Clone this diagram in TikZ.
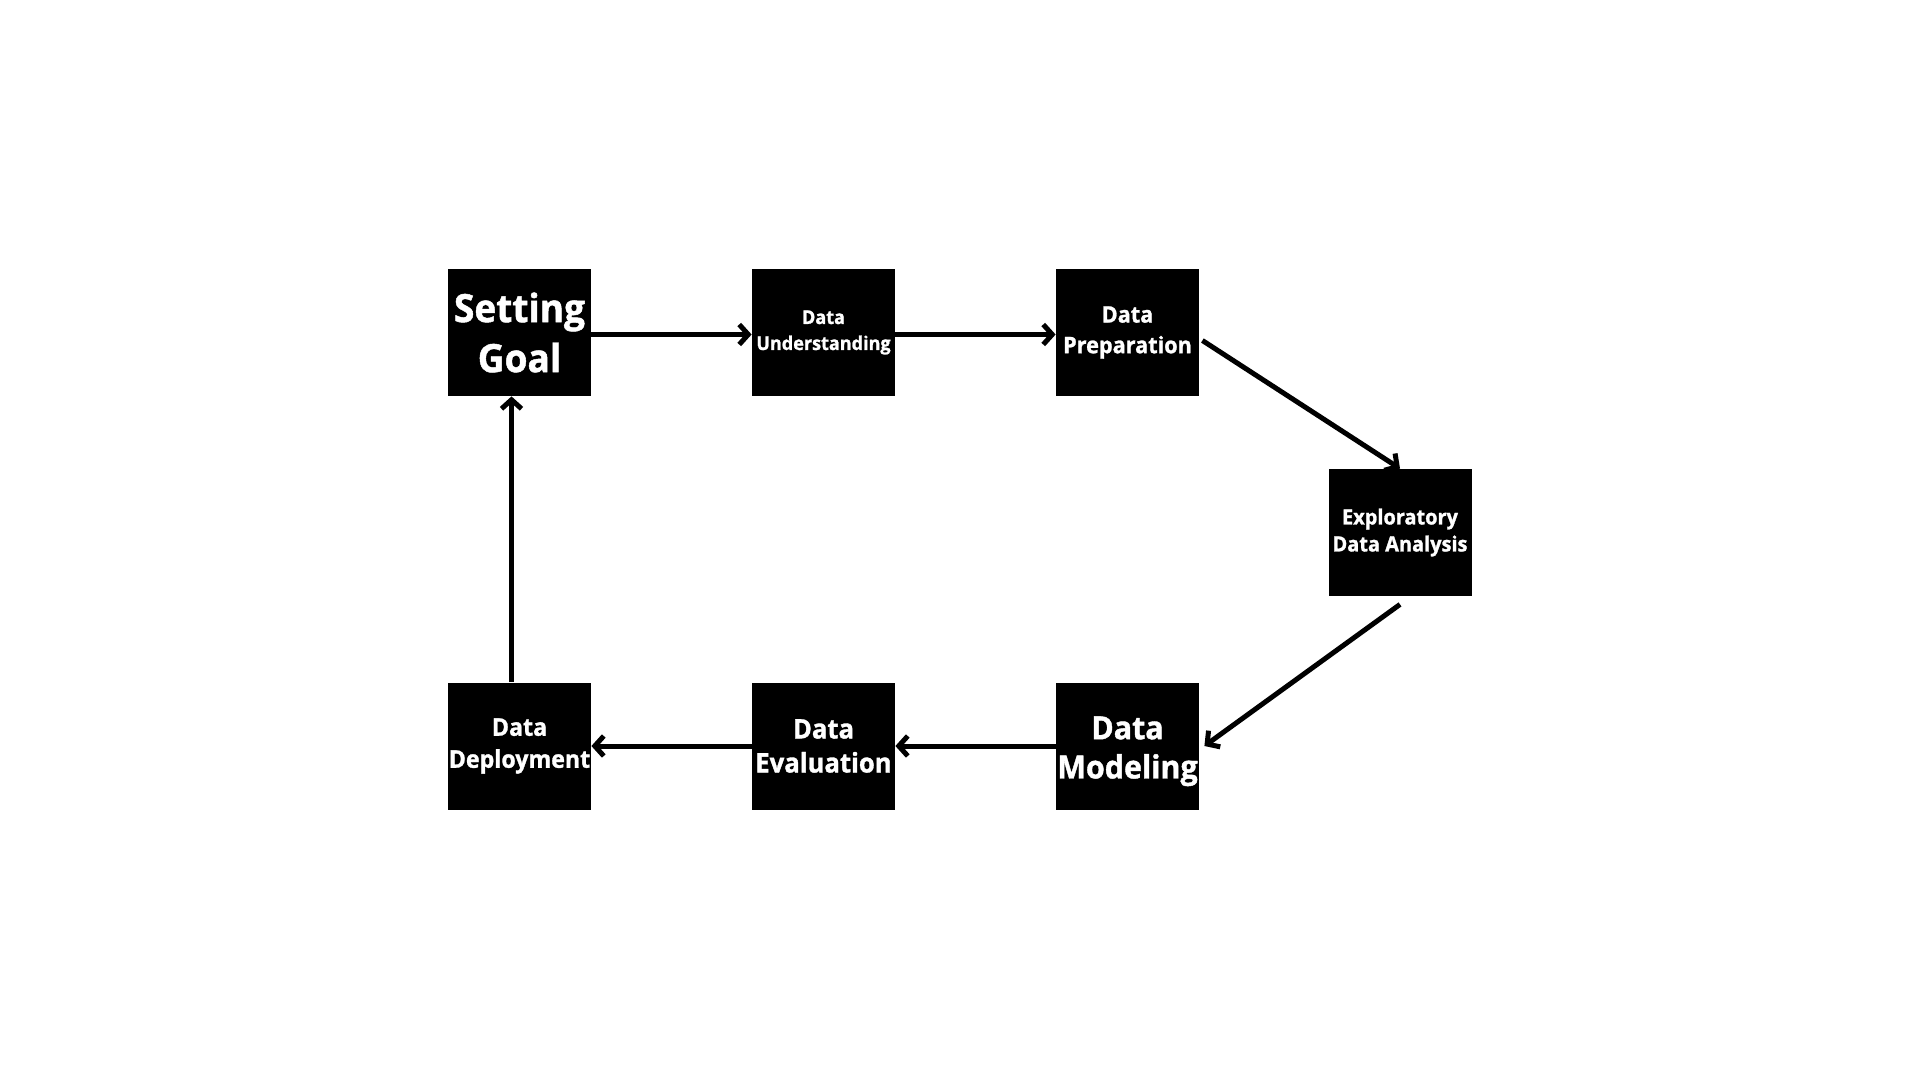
\documentclass[tikz,border=0pt]{standalone}
\usepackage{fontspec}
\setmainfont{Open Sans}
\newfontfamily\boxfont[FakeStretch=0.95,FakeBold=1.2]{Open Sans}
\usetikzlibrary{arrows.meta}
\begin{document}
\begin{tikzpicture}[x=0.5pt,y=-0.5pt,
  blk/.style={fill=black, minimum width=71.5pt, minimum height=63.5pt, inner sep=0pt,
    text=white, align=center, font=\boxfont\bfseries},
  arr/.style={line width=2.5pt, -{Straight Barb[length=4.5pt,width=10pt,line width=2.5pt]}}]
\fill[white] (0,0) rectangle (1920,1080);
\useasboundingbox (0,0) rectangle (1920,1080);
\node[blk, font=\boxfont\bfseries\fontsize{19.5}{25}\selectfont] (sg) at (519.5,332.5) {Setting\\Goal};
\node[blk, font=\boxfont\bfseries\fontsize{9.5}{13}\selectfont] (du) at (823.5,332.5) {Data\\Understanding};
\node[blk, font=\boxfont\bfseries\fontsize{11.4}{15.3}\selectfont] (dp) at (1127.5,332.5) {Data\\Preparation};
\node[blk, font=\boxfont\bfseries\fontsize{10.5}{13.5}\selectfont] (eda) at (1400,532.5) {Exploratory\\Data Analysis};
\node[blk, font=\boxfont\bfseries\fontsize{16}{19.6}\selectfont] (dm) at (1127.5,746) {\raisebox{-2.5pt}[\height][\depth]{\begin{tabular}{@{}c@{}}Data\\Modeling\end{tabular}}};
\node[blk, font=\boxfont\bfseries\fontsize{13.5}{17}\selectfont] (de) at (823.5,746) {Data\\Evaluation};
\node[blk, font=\boxfont\bfseries\fontsize{12.2}{16}\selectfont] (dd) at (519.5,746) {Data\\Deployment};
\draw[arr] ([shift={(0,2)}]sg.east) -- ([shift={(0,2)}]du.west);
\draw[arr] ([shift={(0,2)}]du.east) -- ([shift={(0,2)}]dp.west);
\draw[arr] ([shift={(3,8)}]dp.east) -- (eda.north);
\draw[arr] ([shift={(0,8)}]eda.south) -- ([shift={(5,0)}]dm.east);
\draw[arr] (dm.west) -- (de.east);
\draw[arr] (de.west) -- (dd.east);
\draw[arr] ([shift={(-8,0)}]dd.north) -- ([shift={(-8,0)}]sg.south);
\end{tikzpicture}
\end{document}
